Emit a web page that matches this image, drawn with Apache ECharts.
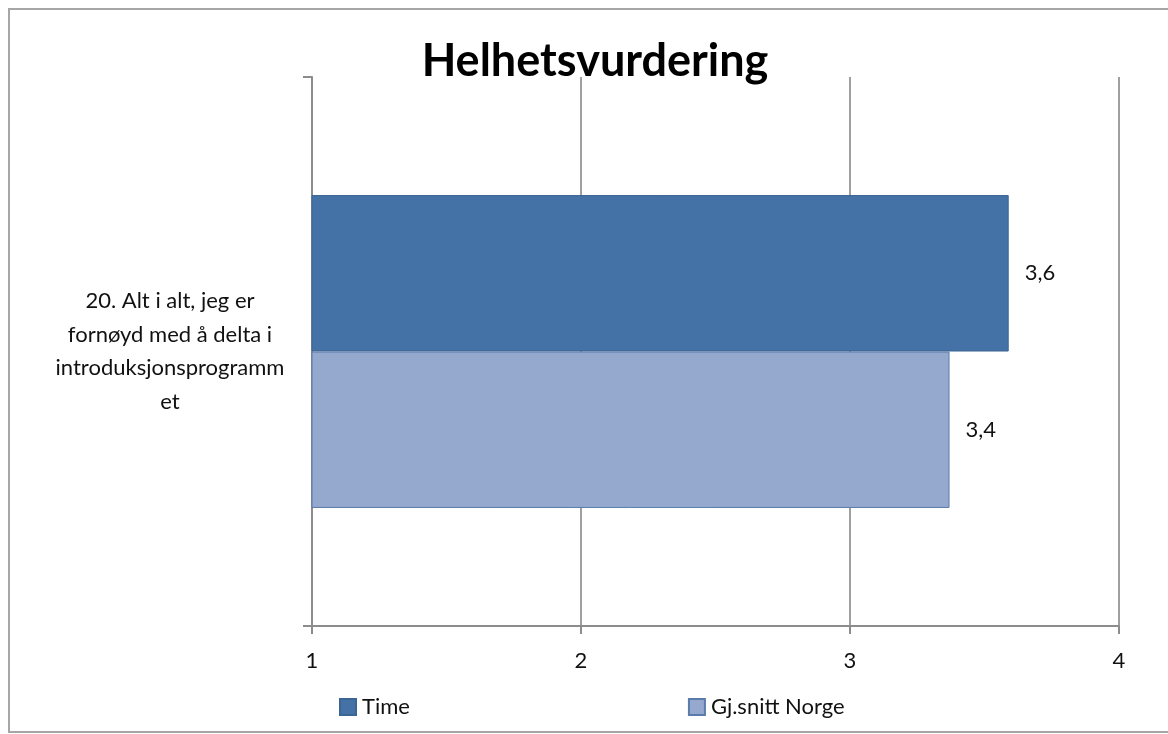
<!DOCTYPE html>
<html>
<head>
<meta charset="utf-8">
<script src="https://cdn.jsdelivr.net/npm/echarts@6/dist/echarts.min.js"></script>
<style>
  html, body { margin: 0; padding: 0; background: #fff; }
  #main { width: 1168px; height: 734px; }
</style>
</head>
<body>
<div id="main"></div>
<script>
var categories = ["20. Alt i alt, jeg er\nfornøyd med å delta i\nintroduksjonsprogramm\net"];
var seriesNames = ["Time", "Gj.snitt Norge"];
var timeValues = [3.59];
var norgeValues = [3.37];
var xTicks = [1, 4, 1]; // min, max, interval

var myChart = echarts.init(document.getElementById("main"));
var fontFam = "Lato, 'Open Sans', sans-serif";

function commaLabel(p) {
  return p.value.toFixed(1).replace(".", ",");
}

var option = {
  backgroundColor: "#fff",
  textStyle: { fontFamily: fontFam },
  title: {
    text: "Helhetsvurdering",
    left: 590,
    textAlign: "center",
    top: 34,
    textStyle: { fontSize: 45, fontWeight: "bold", color: "#000", fontFamily: fontFam }
  },
  graphic: [
    {
      type: "rect",
      shape: { x: 9, y: 9, width: 1170, height: 723 },
      style: { fill: "none", stroke: "#a6a6a6", lineWidth: 2 },
      z: -1
    }
  ],
  legend: {
    data: seriesNames,
    left: 334,
    top: 691,
    itemWidth: 16,
    itemHeight: 16,
    itemGap: 278,
    textStyle: { fontSize: 22, color: "#111", fontFamily: fontFam, padding: [0, 0, 0, 1] },
    icon: "rect"
  },
  grid: {
    left: 312,
    right: 49,
    top: 77,
    bottom: 108
  },
  xAxis: {
    type: "value",
    min: xTicks[0],
    max: xTicks[1],
    interval: xTicks[2],
    axisLine: { show: true, lineStyle: { color: "#8c8c8c", width: 2 } },
    axisTick: { show: true, length: 8, lineStyle: { color: "#8c8c8c", width: 2 } },
    splitLine: { show: true, lineStyle: { color: "#a0a0a0", width: 2 } },
    axisLabel: { fontSize: 22, color: "#111", margin: 24, fontFamily: fontFam }
  },
  yAxis: {
    type: "category",
    data: categories,
    axisLine: { show: true, lineStyle: { color: "#8c8c8c", width: 2 } },
    axisTick: { show: true, length: 9, lineStyle: { color: "#8c8c8c", width: 2 } },
    axisLabel: {
      fontSize: 22,
      color: "#111",
      lineHeight: 33.5,
      align: "center",
      margin: 142,
      fontFamily: fontFam
    }
  },
  series: [
    {
      name: seriesNames[0],
      type: "bar",
      data: timeValues,
      barCategoryGap: "43%",
      barGap: "0%",
      itemStyle: { color: "#4472a6", borderColor: "#3b6593", borderWidth: 1 },
      label: { show: true, position: "right", distance: 16, fontSize: 22, color: "#111", formatter: commaLabel, fontFamily: fontFam }
    },
    {
      name: seriesNames[1],
      type: "bar",
      data: norgeValues,
      barCategoryGap: "43%",
      barGap: "0%",
      itemStyle: { color: "#95a9cf", borderColor: "#5a7bab", borderWidth: 1 },
      label: { show: true, position: "right", distance: 16, fontSize: 22, color: "#111", formatter: commaLabel, fontFamily: fontFam }
    }
  ]
};
myChart.setOption(option);
</script>
</body>
</html>
